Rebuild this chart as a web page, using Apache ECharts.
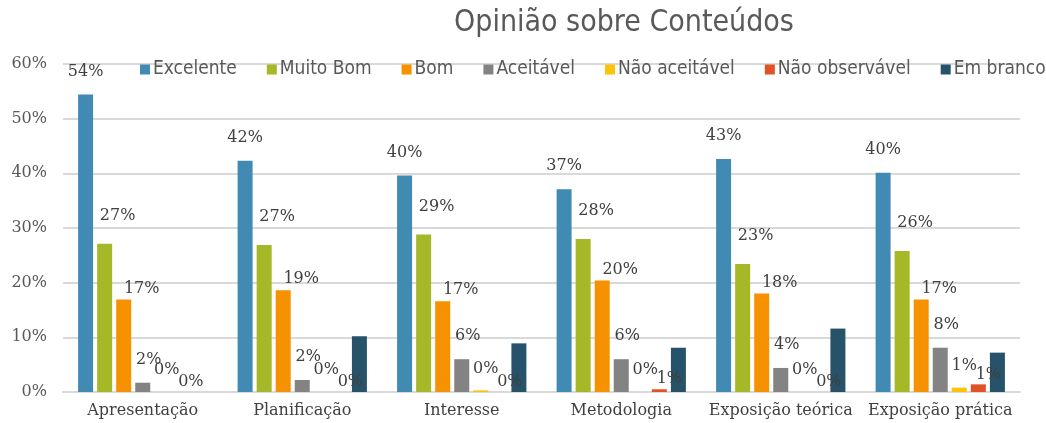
<!DOCTYPE html>
<html>
<head>
<meta charset="utf-8">
<script src="https://cdn.jsdelivr.net/npm/echarts@6/dist/echarts.min.js"></script>
<style>
  html, body { margin: 0; padding: 0; background: #fff; }
  #chart { width: 1046px; height: 423px; }
</style>
</head>
<body>
<div id="chart"></div>
<script>
// categorias e valores (%)
const categorias = ['Apresentação', 'Planificação', 'Interesse', 'Metodologia', 'Exposição teórica', 'Exposição prática'];
const excelente = [54.4, 42.3, 39.6, 37.1, 42.6, 40.1];
const muitoBom = [27.1, 26.9, 28.8, 28.0, 23.4, 25.8];
const bom = [16.9, 18.6, 16.6, 20.4, 18.0, 16.9];
const aceitavel = [1.7, 2.2, 6.0, 6.0, 4.4, 8.1];
const naoAceitavel = [0, 0, 0.3, 0, 0, 0.8];
const naoObservavel = [0, 0, 0, 0.5, 0, 1.4];
const emBranco = [0, 10.2, 8.9, 8.1, 11.6, 7.2];

const serif = 'DejaVu Serif';
const narrow = '"DejaVu Sans Condensed", Roboto, sans-serif';

function serie(nome, dados, cor, offset) {
	return {
		name: nome,
		type: 'bar',
		data: dados,
		barWidth: 15,
		barGap: '27%',
		itemStyle: { color: cor },
		label: {
			show: offset !== null,
			position: 'top',
			offset: offset || [0, 0],
			fontFamily: serif,
			fontSize: 16,
			color: '#404040',
			formatter: p => Math.round(p.value) + '%'
		}
	};
}

const chart = echarts.init(document.getElementById('chart'));
chart.setOption({
	animation: false,
	title: {
		text: 'Opinião sobre Conteúdos',
		left: 449,
		top: 3,
		textStyle: { fontFamily: narrow, fontSize: 30, fontWeight: 300, color: '#595959' }
	},
	legend: {
		left: 140,
		top: 60,
		padding: 0,
		itemWidth: 10,
		itemHeight: 10,
		itemGap: 30,
		icon: 'rect',
		textStyle: { fontFamily: narrow, fontSize: 19, fontWeight: 300, color: '#595959', padding: [0, 0, 0, -2] }
	},
	grid: { left: 63, right: 26, top: 64, bottom: 31 },
	xAxis: {
		type: 'category',
		data: categorias,
		axisLine: { lineStyle: { color: '#D9D9D9', width: 2 } },
		axisTick: { show: false },
		axisLabel: { interval: 0, fontFamily: serif, fontSize: 16, color: '#404040', margin: 11 }
	},
	yAxis: {
		type: 'value',
		min: 0,
		max: 60,
		interval: 10,
		axisLabel: { formatter: '{value}%', fontFamily: serif, fontSize: 16, color: '#595959', margin: 16 },
		splitLine: { lineStyle: { color: '#D9D9D9', width: 2 } }
	},
	series: [
		serie('Excelente', excelente, '#418AB3', [0, -10]),
		serie('Muito Bom', muitoBom, '#A6B727', [13, -15]),
		serie('Bom', bom, '#F69200', [18, 2]),
		serie('Aceitável', aceitavel, '#838383', [6, -10]),
		serie('Não aceitável', naoAceitavel, '#FEC306', [5, -9]),
		serie('Não observável', naoObservavel, '#DF5327', [10, 3]),
		serie('Em branco', emBranco, '#265369', null)
	]
});
</script>
</body>
</html>
